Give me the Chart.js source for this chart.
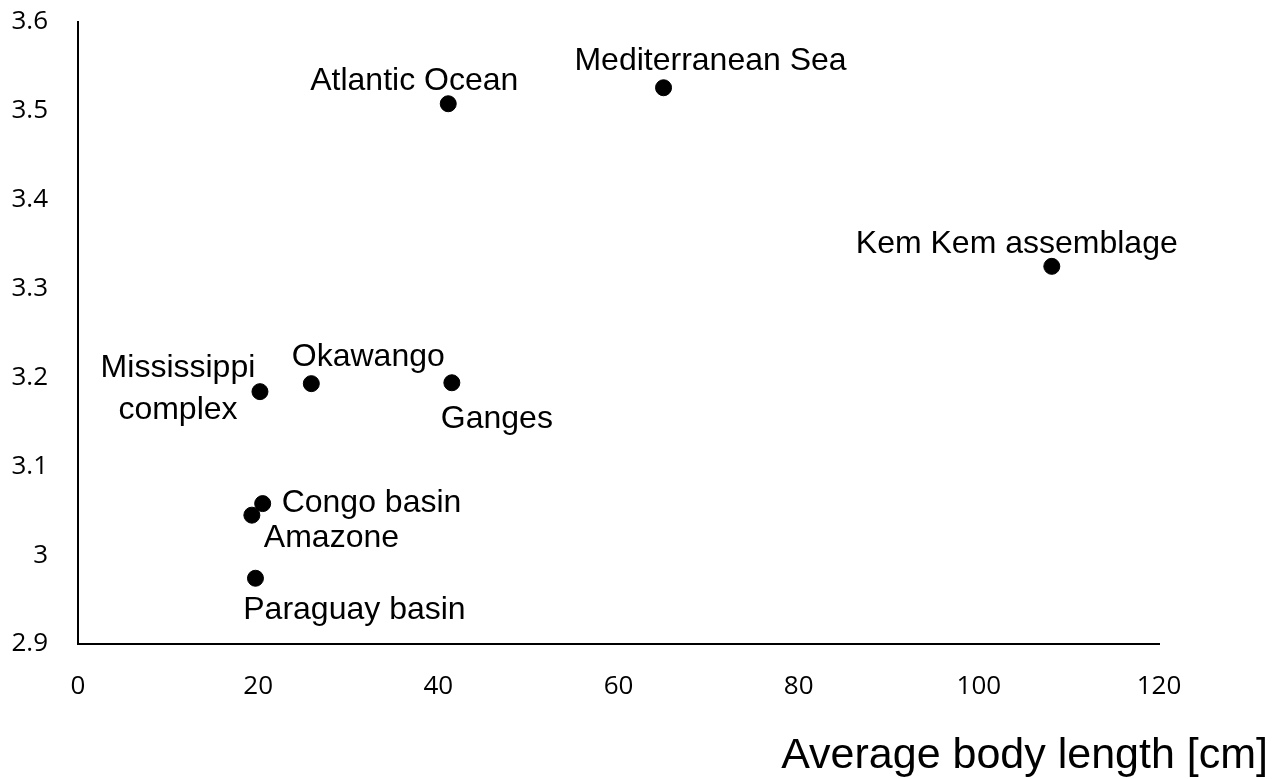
<!DOCTYPE html>
<html>
<head>
<meta charset="utf-8">
<script src="https://cdn.jsdelivr.net/npm/chart.js@4"></script>
<style>
  body { margin: 0; background: #fff; }
  #wrap { width: 1277px; height: 779px; }
</style>
</head>
<body>
<div id="wrap"><canvas id="chart" width="1277" height="779"></canvas></div>
<script>
// data
const sites = ['Atlantic Ocean', 'Mediterranean Sea', 'Kem Kem assemblage', 'Mississippi\ncomplex', 'Okawango', 'Ganges', 'Congo basin', 'Amazone', 'Paraguay basin'];
const bodyLength = [41.1, 65.0, 108.1, 20.2, 25.9, 41.5, 20.5, 19.3, 19.7];
const ratioValues = [3.508, 3.526, 3.325, 3.184, 3.193, 3.194, 3.058, 3.045, 2.974];
const xTicks = [0, 20, 40, 60, 80, 100, 120];
const yTicks = [2.9, 3.0, 3.1, 3.2, 3.3, 3.4, 3.5, 3.6];

// where each label sits relative to its point (px)
const labelPlace = [
  { dx: -34, dy: -23, align: 'center' },
  { dx: 47, dy: -27, align: 'center' },
  { dx: -35, dy: -22, align: 'center' },
  { dx: -82, dy: -23, align: 'center', lineGap: 42 },
  { dx: 57, dy: -26, align: 'center' },
  { dx: 45, dy: 36, align: 'center' },
  { dx: 19, dy: 0, align: 'left' },
  { dx: 12, dy: 23, align: 'left' },
  { dx: 99, dy: 32, align: 'center' }
];

const points = bodyLength.map((x, i) => ({ x: x, y: ratioValues[i] }));

// point labels + axis title
const labelPlugin = {
  id: 'labels',
  afterDatasetsDraw(chart) {
    const ctx = chart.ctx;
    const meta = chart.getDatasetMeta(0);
    ctx.save();
    ctx.fillStyle = '#000';
    ctx.font = '32px "Liberation Sans", Arial, sans-serif';
    ctx.textBaseline = 'middle';
    meta.data.forEach((pt, i) => {
      const p = labelPlace[i];
      ctx.textAlign = p.align;
      const lines = sites[i].split('\n');
      lines.forEach((line, k) => {
        ctx.fillText(line, pt.x + p.dx, pt.y + p.dy + k * (p.lineGap || 0));
      });
    });
    // x axis title, right aligned to the page edge
    ctx.font = '43px "Liberation Sans", Arial, sans-serif';
    ctx.textAlign = 'right';
    ctx.fillText('Average body length [cm]', 1268, 756);
    ctx.restore();
  }
};

new Chart(document.getElementById('chart'), {
  type: 'scatter',
  data: {
    datasets: [{
      data: points,
      backgroundColor: '#000',
      borderColor: '#000',
      pointRadius: 8,
      pointHoverRadius: 8
    }]
  },
  options: {
    responsive: false,
    animation: false,
    layout: { padding: { top: 22, right: 118, left: 0, bottom: 0 } },
    plugins: { legend: { display: false }, tooltip: { enabled: false } },
    scales: {
      x: {
        type: 'linear',
        min: 0, max: 120,
        afterBuildTicks: (s) => { s.ticks = xTicks.map(v => ({ value: v })); },
        afterFit: (s) => { s.height = 135; s.paddingLeft = 0; s.paddingRight = 0; },
        grid: { display: false, drawTicks: false },
        border: { display: true, color: '#000', width: 2 },
        ticks: {
          color: '#000',
          padding: 27,
          font: { family: '"Open Sans", sans-serif', size: 26 }
        }
      },
      y: {
        type: 'linear',
        min: 2.9, max: 3.6,
        afterBuildTicks: (s) => { s.ticks = yTicks.map(v => ({ value: v })); },
        afterFit: (s) => { s.width = 78; s.paddingTop = 0; s.paddingBottom = 0; },
        grid: { display: false, drawTicks: false },
        border: { display: true, color: '#000', width: 2 },
        ticks: {
          color: '#000',
          padding: 30,
          font: { family: '"Open Sans", sans-serif', size: 26 },
          callback: (v) => String(Number(v.toFixed(1)))
        }
      }
    }
  },
  plugins: [labelPlugin]
});
</script>
</body>
</html>
